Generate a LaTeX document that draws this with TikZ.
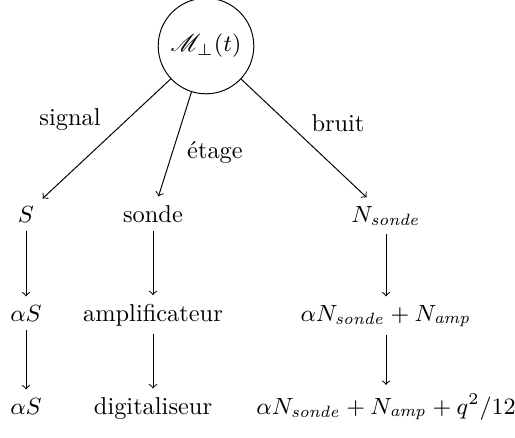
\RequirePackage{fix-cm}
\documentclass[tikz,border=0pt]{standalone}
\usepackage{mathrsfs}
\begin{document}
\begin{tikzpicture}[x=0.41pt,y=-0.41pt,
  txt/.style={anchor=base},
  mth/.style={anchor=base,font=\fontsize{9.6}{11.5}\selectfont},
  arr/.style={->}]
\useasboundingbox (0,0) rectangle (515,437);
\node[draw,circle,font=\fontsize{9.6}{11.5}\selectfont] (m) at (206,46) {$\mathscr{M}_\perp(t)$};
% row 1
\node[mth] (s1) at (26,222) {$S$};
\node[txt] (p1) at (153,222) {sonde};
\node[mth] (n1) at (386,222) {$N_{\mathit{sonde}}$};
% row 2
\node[mth] (s2) at (26,321) {$\alpha S$};
\node[txt] (p2) at (153,321) {amplificateur};
\node[mth] (n2) at (386,321) {$\alpha N_{\mathit{sonde}} + N_{\mathit{amp}}$};
% row 3
\node[mth] (s3) at (26,414) {$\alpha S$};
\node[txt] (p3) at (153,414) {digitaliseur};
\node[mth] (n3) at (386,414) {$\alpha N_{\mathit{sonde}} + N_{\mathit{amp}} + q^2/12$};
% labels
\node[txt] (ls) at (70,126) {signal};
\node[txt] (le) at (215,159) {\'etage};
\node[txt] (lb) at (338,132) {bruit};
% connectors
\draw[arr] (m) -- (s1);
\draw[arr] (m) -- (p1);
\draw[arr] (m) -- (n1);
\draw[arr] (s1) -- (s2);
\draw[arr] (s2) -- (s3);
\draw[arr] (p1) -- (p2);
\draw[arr] (p2) -- (p3);
\draw[arr] (n1) -- (n2);
\draw[arr] (n2) -- (n3);
\end{tikzpicture}
\end{document}
